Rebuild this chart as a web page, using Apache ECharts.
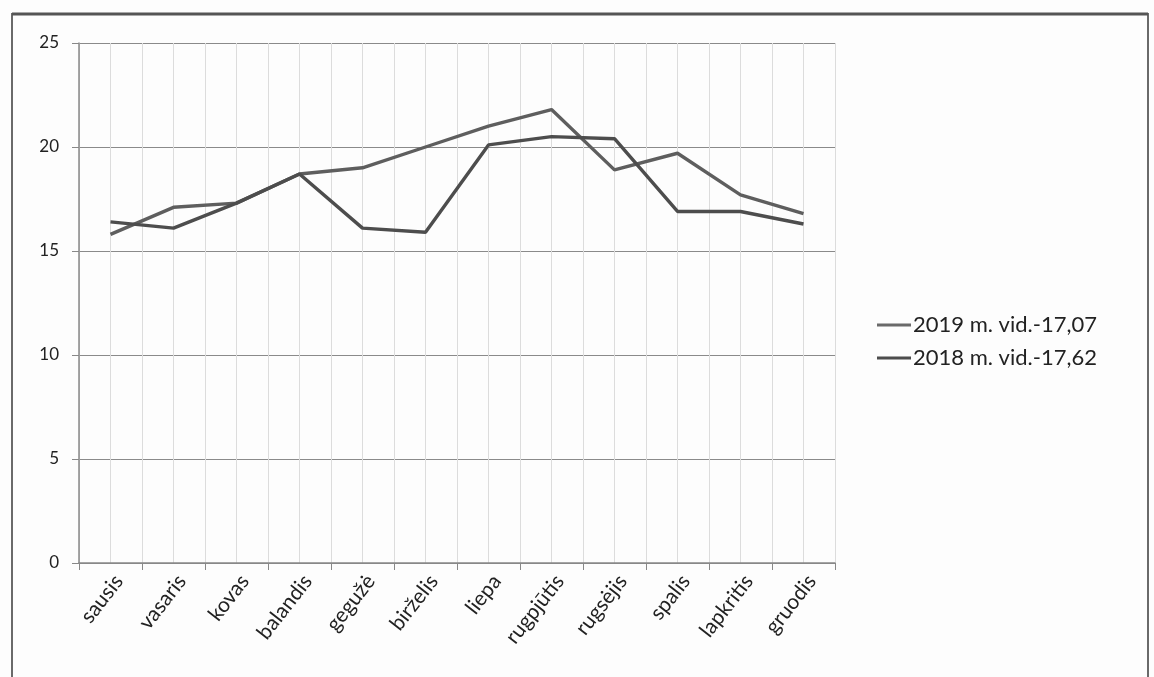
<!DOCTYPE html>
<html>
<head>
<meta charset="utf-8">
<script src="https://cdn.jsdelivr.net/npm/echarts@6/dist/echarts.min.js"></script>
<style>
html,body{margin:0;padding:0;background:#fdfdfd;}
#c{width:1154px;height:677px;}
</style>
</head>
<body>
<div id="c"></div>
<script>
const months = ['sausis','vasaris','kovas','balandis','gegužė','birželis','liepa','rugpjūtis','rugsėjis','spalis','lapkritis','gruodis'];
const seriesNames = ['2019 m. vid.-17,07','2018 m. vid.-17,62'];
const values2019 = [15.8,17.1,17.3,18.7,19.0,20.0,21.0,21.8,18.9,19.7,17.7,16.8];
const values2018 = [16.4,16.1,17.3,18.7,16.1,15.9,20.1,20.5,20.4,16.9,16.9,16.3];
const yTicks = [0,5,10,15,20,25];

const chart = echarts.init(document.getElementById('c'));
const font = 'Lato, "Open Sans", sans-serif';
chart.setOption({
  backgroundColor: '#fdfdfd',
  animation: false,
  graphic: [
    {type:'rect', shape:{x:12,y:14,width:1136,height:680}, style:{fill:'none', stroke:'#6a6a6a', lineWidth:2}, z:0},
    {type:'line', shape:{x1:12,y1:14,x2:1148,y2:14}, style:{stroke:'#555', lineWidth:3}, z:0}
  ],
  grid: {left:79, right:319, top:43, bottom:114, containLabel:false},
  legend: {
    orient:'vertical', left:872, top:309, itemGap:11,
    icon:'rect', itemWidth:34, itemHeight:3,
    textStyle:{fontFamily:font, fontSize:22, color:'#222', padding:[0,0,0,-3]},
    data: seriesNames
  },
  xAxis: [
    {
      type:'category', data: months, boundaryGap:true,
      axisLine:{lineStyle:{color:'#888', width:1.5}},
      axisTick:{show:true, length:7, lineStyle:{color:'#888'}},
      axisLabel:{rotate:52, fontFamily:font, fontSize:21, color:'#222', margin:8, interval:0, verticalAlign:'top'},
      splitLine:{show:true, lineStyle:{color:'#bdbdbd', width:1}}
    },
    {
      type:'value', min:0, max:24, interval:1, position:'bottom',
      axisLine:{show:false}, axisTick:{show:false}, axisLabel:{show:false},
      splitLine:{show:true, lineStyle:{color:'#dcdcdc', width:1}}
    }
  ],
  yAxis: {
    type:'value', min:0, max:25, interval:5,
    axisLine:{show:true, lineStyle:{color:'#888', width:1.5}},
    axisTick:{show:true, length:7, lineStyle:{color:'#888'}},
    axisLabel:{fontFamily:font, fontSize:17, color:'#222', margin:20,
      formatter: v => yTicks.includes(v) ? String(v) : ''},
    splitLine:{show:true, lineStyle:{color:'#8a8a8a', width:1.2}}
  },
  series: [
    {name:seriesNames[0], type:'line', data:values2019, xAxisIndex:0, symbol:'none',
      lineStyle:{color:'#5e5e5e', width:3.4}, itemStyle:{color:'#6a6a6a'}},
    {name:seriesNames[1], type:'line', data:values2018, xAxisIndex:0, symbol:'none',
      lineStyle:{color:'#4d4d4d', width:3.4}, itemStyle:{color:'#4d4d4d'}}
  ]
});
</script>
</body>
</html>
